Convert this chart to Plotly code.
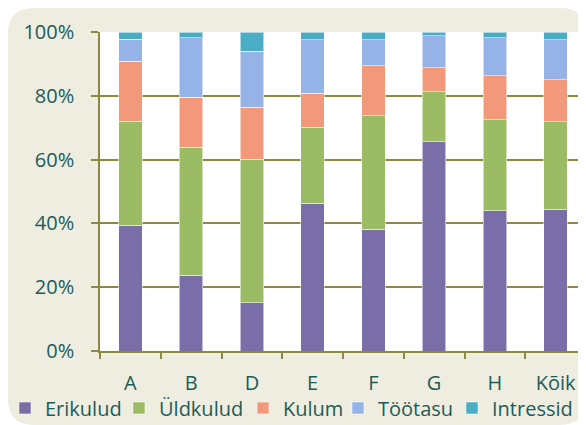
import plotly.graph_objects as go

categories = ["A", "B", "D", "E", "F", "G", "H", "Kõik"]
erikulud = [39.5, 23.8, 15.1, 46.3, 38.2, 65.6, 43.9, 44.4]
uldkulud = [32.5, 40.1, 45.0, 23.8, 35.6, 15.7, 28.6, 27.5]
kulum = [18.8, 15.6, 16.3, 10.7, 15.6, 7.5, 13.8, 13.1]
tootasu = [6.9, 18.7, 17.6, 16.8, 8.2, 10.0, 11.9, 12.6]
intressid = [2.3, 1.8, 6.0, 2.4, 2.4, 1.2, 1.8, 2.4]

series_names = ["Erikulud", "Üldkulud", "Kulum", "Töötasu", "Intressid"]
series_values = [erikulud, uldkulud, kulum, tootasu, intressid]
series_colors = ["#7A6EA9", "#9BBB64", "#F2997C", "#95B3E6", "#4BACC6"]

# figure is placed by the page at (8, 8); sizes in figure pixels
W, H = 578, 417
L, R, T, B = 92, 0, 24, 74
TEXT = "#1B5C59"
OLIVE = "#8A8A42"
FONT = "Open Sans"
FS = 20
# x position (figure px) where each legend entry's text starts
legend_text_x = [36, 150, 274, 369, 483]
legend_text_y = 400

pw, ph = W - L - R, H - T - B


def px(x):
    return (x - L) / pw


def py(y):
    return (H - B - y) / ph


fig = go.Figure()
legend_layouts = {}
for i, (name, vals, col) in enumerate(zip(series_names, series_values, series_colors)):
    key = "legend" if i == 0 else f"legend{i + 1}"
    fig.add_trace(go.Bar(
        x=categories, y=vals, name=name, legend=key,
        marker=dict(color=col, line=dict(color="rgba(255,255,255,0.55)", width=1)),
    ))
    legend_layouts[key] = dict(
        orientation="h", x=px(legend_text_x[i] - 39), xanchor="left",
        y=py(legend_text_y), yanchor="middle",
        bgcolor="rgba(0,0,0,0)", font=dict(family=FONT, size=FS, color=TEXT),
        itemwidth=30,
    )


def rounded(x0, y0, x1, y1, r):
    pts = [
        f"M{px(x0 + r)},{py(y0)}",
        f"L{px(x1 - r)},{py(y0)}",
        f"Q{px(x1)},{py(y0)} {px(x1)},{py(y0 + r)}",
        f"L{px(x1)},{py(y1 - r)}",
        f"Q{px(x1)},{py(y1)} {px(x1 - r)},{py(y1)}",
        f"L{px(x0 + r)},{py(y1)}",
        f"Q{px(x0)},{py(y1)} {px(x0)},{py(y1 - r)}",
        f"L{px(x0)},{py(y0 + r)}",
        f"Q{px(x0)},{py(y0)} {px(x0 + r)},{py(y0)}",
        "Z",
    ]
    return " ".join(pts)


shapes = [
    dict(type="path", xref="paper", yref="paper", layer="below",
         path=rounded(0, 0, W, H, 26), fillcolor="#EFEDE0", line=dict(width=0)),
    dict(type="rect", xref="paper", yref="paper", layer="below",
         x0=0, x1=1, y0=0, y1=1, fillcolor="white", line=dict(width=0)),
]

fig.update_layout(
    width=W, height=H,
    margin=dict(l=L, r=R, t=T, b=B, autoexpand=False),
    paper_bgcolor="rgba(0,0,0,0)", plot_bgcolor="white",
    barmode="stack", bargap=0.61,
    shapes=shapes,
    font=dict(family=FONT, size=FS, color=TEXT),
    showlegend=True,
    xaxis=dict(showline=True, linecolor=OLIVE, linewidth=1.5, ticks="outside",
               tickson="boundaries", ticklen=6, tickcolor=OLIVE, tickwidth=1.5,
               showgrid=False, ticklabelstandoff=13, range=[-0.5, 7.5]),
    yaxis=dict(range=[0, 100], dtick=20, ticksuffix="%", showline=True, linecolor=OLIVE,
               linewidth=1.5, ticks="outside", ticklen=7, tickcolor=OLIVE, tickwidth=1.5,
               showgrid=True, gridcolor=OLIVE, gridwidth=1.5, zeroline=False,
               ticklabelstandoff=13),
    **legend_layouts,
)

fig.write_html("out.html")
